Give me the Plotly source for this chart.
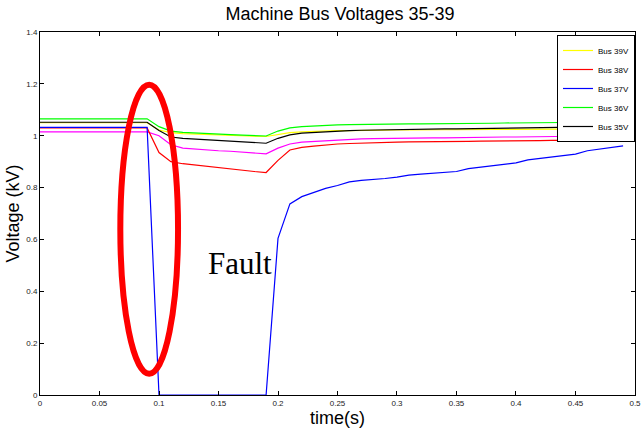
import plotly.graph_objects as go

# time axis (s)
t = [round(0.01 * i, 2) for i in range(50)]

bus39 = [1.050] * 10 + [1.022, 1.012, 1.008, 1.006, 1.004, 1.003, 1.001, 1.000, 0.998, 0.997,
                        1.005, 1.012, 1.015, 1.017, 1.019, 1.020, 1.020, 1.021, 1.021, 1.022,
                        1.022, 1.022, 1.023, 1.023, 1.023, 1.023, 1.024, 1.024, 1.024, 1.024,
                        1.024, 1.025, 1.025, 1.025, 1.025, 1.025, 1.025, 1.026, 1.026, 1.026]
bus38 = [1.030] * 10 + [0.935, 0.900, 0.892, 0.887, 0.882, 0.876, 0.870, 0.865, 0.862, 0.858,
                        0.905, 0.945, 0.955, 0.960, 0.965, 0.968, 0.970, 0.972, 0.973, 0.974,
                        0.975, 0.976, 0.976, 0.977, 0.977, 0.978, 0.978, 0.979, 0.979, 0.980,
                        0.980, 0.981, 0.981, 0.982, 0.982, 0.982, 0.983, 0.983, 0.983, 0.984]
bus37 = [1.032] * 10 + [0.0, 0.0, 0.0, 0.0, 0.0, 0.0, 0.0, 0.0, 0.0, 0.0,
                        0.604, 0.737, 0.765, 0.782, 0.797, 0.808, 0.822, 0.828, 0.831, 0.835,
                        0.840, 0.848, 0.852, 0.855, 0.859, 0.862, 0.873, 0.878, 0.884, 0.889,
                        0.895, 0.907, 0.912, 0.918, 0.923, 0.929, 0.942, 0.949, 0.955, 0.961]
bus36 = [1.065] * 10 + [1.035, 1.018, 1.013, 1.010, 1.008, 1.006, 1.004, 1.002, 1.000, 0.999,
                        1.018, 1.030, 1.035, 1.038, 1.041, 1.042, 1.043, 1.044, 1.044, 1.045,
                        1.045, 1.046, 1.046, 1.046, 1.047, 1.047, 1.048, 1.048, 1.048, 1.049,
                        1.049, 1.050, 1.050, 1.051, 1.051, 1.052, 1.052, 1.053, 1.053, 1.054]
bus35 = [1.052] * 10 + [1.020, 0.995, 0.990, 0.987, 0.985, 0.982, 0.980, 0.977, 0.974, 0.971,
                        0.990, 1.003, 1.010, 1.013, 1.016, 1.018, 1.020, 1.021, 1.022, 1.022,
                        1.023, 1.024, 1.024, 1.025, 1.026, 1.026, 1.027, 1.027, 1.028, 1.028,
                        1.029, 1.030, 1.031, 1.032, 1.032, 1.033, 1.033, 1.034, 1.034, 1.035]
extra = [1.015] * 10 + [1.000, 0.965, 0.952, 0.948, 0.945, 0.942, 0.940, 0.937, 0.934, 0.930,
                        0.952, 0.968, 0.975, 0.978, 0.980, 0.982, 0.985, 0.988, 0.989, 0.990,
                        0.990, 0.991, 0.991, 0.992, 0.992, 0.993, 0.993, 0.994, 0.994, 0.995,
                        0.995, 0.996, 0.996, 0.997, 0.997, 0.998, 0.998, 0.999, 0.999, 1.000]

x_ticks = [0, 0.05, 0.1, 0.15, 0.2, 0.25, 0.3, 0.35, 0.4, 0.45, 0.5]
x_tick_labels = ["0", "0.05", "0.1", "0.15", "0.2", "0.25", "0.3", "0.35", "0.4", "0.45", "0.5"]
y_ticks = [0, 0.2, 0.4, 0.6, 0.8, 1.0, 1.2, 1.4]
y_tick_labels = ["0", "0.2", "0.4", "0.6", "0.8", "1", "1.2", "1.4"]

fig = go.Figure()
fig.add_trace(go.Scatter(x=t, y=extra, mode="lines", line=dict(color="#FF00FF", width=1.2),
                         showlegend=False, name="Bus"))
series = [("Bus 39V", bus39, "#FFFF00"), ("Bus 38V", bus38, "#FF0000"),
          ("Bus 37V", bus37, "#0000FF"), ("Bus 36V", bus36, "#00FF00"),
          ("Bus 35V", bus35, "#000000")]
for name, vals, col in series:
    fig.add_trace(go.Scatter(x=t, y=vals, mode="lines", name=name,
                             line=dict(color=col, width=1.2)))

# fault ellipse
fig.add_shape(type="circle", xref="x", yref="y", x0=0.0675, x1=0.116, y0=0.082, y1=1.197,
              line=dict(color="#FF0000", width=6))
fig.add_annotation(x=0.168, y=0.507, xref="x", yref="y", text="Fault", showarrow=False,
                   font=dict(family="Liberation Serif, Times New Roman, serif", size=31, color="black"))

axis_common = dict(showline=True, linecolor="black", linewidth=1, mirror="ticks",
                   ticks="inside", ticklen=4, tickcolor="black", showgrid=False, zeroline=False,
                   ticklabeloverflow="allow", automargin=False,
                   tickfont=dict(family="Liberation Sans, Arial", size=8, color="#222222"))

fig.update_layout(
    width=641, height=432,
    margin=dict(l=40, r=6, t=32, b=37),
    paper_bgcolor="white", plot_bgcolor="white",
    font=dict(family="Liberation Sans, Arial", color="black"),
    title=dict(text="Machine Bus Voltages 35-39", x=340 / 641, xanchor="center",
               y=1 - 14 / 432, yanchor="middle",
               font=dict(family="Liberation Sans, Arial", size=18, color="black")),
    xaxis=dict(range=[0, 0.50001], tickvals=x_ticks, ticktext=x_tick_labels,
               title=dict(text="time(s)", standoff=3,
                          font=dict(family="Liberation Sans, Arial", size=18, color="black")),
               **axis_common),
    yaxis=dict(range=[0, 1.40001], tickvals=y_ticks, ticktext=y_tick_labels,
               title=dict(text="Voltage (kV)", standoff=1,
                          font=dict(family="Liberation Sans, Arial", size=18, color="black")),
               **axis_common),
    legend=dict(x=1, y=1 - 3 / 363, xanchor="right", yanchor="top",
                bordercolor="black", borderwidth=1, bgcolor="white",
                font=dict(family="Liberation Sans, Arial", size=8, color="black"),
                tracegroupgap=0, itemwidth=30),
)

fig.write_html("out.html", config={"displayModeBar": False},
               post_script="document.body.style.margin='0';document.body.style.padding='0';")
